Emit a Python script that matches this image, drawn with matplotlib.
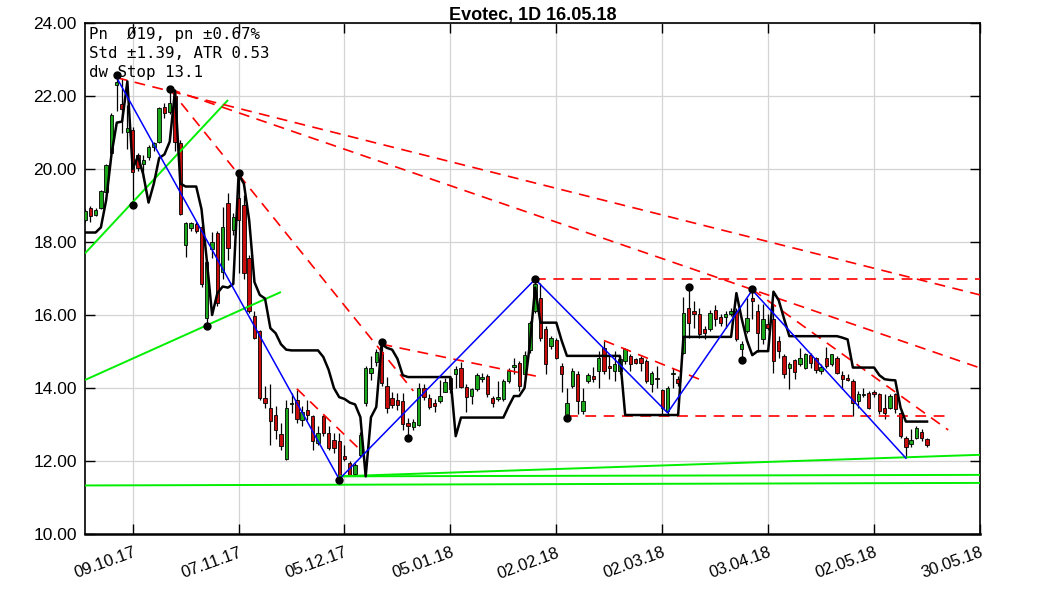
import matplotlib
matplotlib.use('Agg')
import matplotlib.pyplot as plt
import numpy as np

# ---------------- data ----------------
bar_index = list(range(-9, 151))   # trading-day index, 0 = 09.10.17
opens = [18.60,18.92,18.74,18.92,19.38,20.43,22.29,21.78,21.02,
 21.07,20.38,20.14,20.34,20.59,20.75,21.71,21.57,22.00,20.72,
 17.92,18.37,18.50,18.42,15.91,17.80,18.24,17.19,19.06,18.33,
 19.20,19.02,17.56,15.96,15.55,13.73,13.45,13.27,12.75,12.05,
 13.57,13.68,13.13,13.40,13.22,12.50,13.22,12.77,12.58,12.54,
 12.15,11.95,11.65,12.17,13.59,14.41,14.70,15.00,14.06,13.73,
 13.68,13.65,13.05,12.93,13.00,14.00,13.72,13.59,13.64,13.90,
 14.28,14.37,14.54,14.03,13.78,13.96,14.24,14.33,13.72,13.69,
 13.69,14.19,14.58,14.69,14.37,15.03,16.11,16.47,15.61,15.15,
 15.31,14.60,13.26,14.05,14.37,13.37,14.19,14.33,14.47,15.10,
 14.60,14.47,14.47,14.74,14.88,14.79,14.83,14.74,14.12,14.28,
 13.94,13.37,14.37,14.24,14.97,16.20,16.11,16.02,15.61,15.61,
 16.13,15.95,15.95,16.02,16.11,15.06,15.56,16.46,16.10,15.33,
 15.74,15.88,15.29,14.88,14.56,14.76,14.65,14.56,14.90,14.81,
 14.47,14.83,14.65,14.83,14.35,14.28,14.19,13.64,13.80,13.87,
 13.89,13.83,13.46,13.46,13.83,13.32,12.64,12.47,12.64,12.80,12.59]
highs = [18.90,18.98,18.93,19.43,20.14,21.53,22.57,22.50,21.75,
 21.15,20.45,20.38,20.66,20.75,21.70,21.80,22.19,22.15,20.80,
 18.55,18.55,18.55,18.47,17.50,18.27,18.30,18.95,19.33,18.80,
 19.90,19.30,17.65,16.10,15.60,14.05,14.12,13.50,13.04,13.68,
 13.86,13.95,13.50,13.68,13.27,12.95,13.27,12.95,12.77,12.77,
 12.45,12.00,11.95,12.80,14.60,14.87,15.06,15.25,14.30,13.90,
 13.85,13.85,13.19,13.15,14.15,14.10,13.83,13.69,14.23,14.28,
 14.33,14.60,14.70,14.10,14.01,14.40,14.40,14.38,13.78,14.19,
 14.24,14.56,14.83,14.74,15.01,15.84,16.98,16.88,15.70,15.43,
 15.36,14.69,14.01,14.54,14.47,14.00,14.42,14.58,15.01,15.29,
 14.88,15.01,14.88,15.10,14.92,14.83,14.88,14.79,14.47,14.60,
 13.97,14.06,14.55,14.33,16.50,16.77,16.38,16.20,15.70,16.15,
 16.28,16.02,16.11,16.20,16.20,15.29,16.47,16.70,16.30,16.29,
 16.02,16.29,15.42,14.92,14.70,14.79,15.10,14.97,14.97,14.85,
 14.65,15.11,14.94,14.88,14.47,14.38,14.24,13.92,14.01,13.92,
 13.94,13.87,13.83,13.83,13.87,13.37,12.69,12.87,12.96,12.87,12.64]
lows = [18.55,18.55,18.70,18.90,19.35,20.40,21.60,21.00,20.55,
 19.06,19.95,19.76,20.25,20.50,20.70,21.40,21.50,20.50,18.74,
 17.60,18.30,18.25,16.78,15.71,17.56,16.25,17.00,17.51,18.20,
 17.14,17.00,16.05,15.33,13.68,13.45,12.45,12.59,12.31,12.03,
 13.32,13.04,12.95,13.13,12.31,12.45,12.68,12.31,12.22,11.47,
 11.99,11.60,11.60,12.10,13.50,14.23,14.60,14.05,13.32,13.45,
 13.40,12.85,12.62,12.85,12.95,13.68,13.42,13.33,13.59,13.88,
 13.87,14.00,14.01,13.33,13.56,13.92,14.17,13.74,13.47,13.64,
 13.64,14.15,14.37,13.92,14.28,14.97,16.06,15.29,14.37,15.06,
 14.79,13.90,13.19,14.00,13.28,13.28,14.15,14.17,14.00,14.38,
 14.26,14.19,14.38,14.65,14.47,14.65,14.47,14.15,13.90,14.01,
 13.28,13.28,14.01,14.06,14.92,15.38,15.65,15.38,15.33,15.56,
 15.70,15.70,15.65,15.97,15.29,14.77,15.52,15.88,15.00,15.20,
 15.60,14.42,14.83,14.28,13.97,14.24,14.60,14.51,14.56,14.42,
 14.38,14.56,14.60,14.38,13.97,14.19,13.23,13.46,13.74,13.42,
 13.74,13.28,13.15,13.42,13.32,12.64,12.09,12.37,12.60,12.55,12.37]
closes = [18.85,18.71,18.88,19.40,20.11,21.48,22.37,21.64,21.11,
 19.93,20.02,20.26,20.59,20.70,21.66,21.53,21.80,20.75,18.77,
 18.51,18.51,18.30,16.85,17.46,18.00,16.32,18.42,17.83,18.69,
 18.60,17.15,16.10,15.37,13.73,13.59,13.09,12.86,12.40,13.45,
 13.60,13.14,13.34,13.27,12.54,12.77,12.77,12.36,12.36,11.63,
 12.05,11.63,11.90,12.72,14.55,14.55,14.98,14.14,13.45,13.54,
 13.54,13.02,12.96,13.08,14.00,13.75,13.48,13.52,13.78,14.17,
 13.96,14.51,14.03,13.74,13.96,14.36,14.30,13.83,13.60,13.75,
 14.19,14.47,14.63,14.05,14.90,15.79,16.86,15.36,14.67,15.38,
 14.83,14.39,13.60,14.47,13.64,13.64,14.35,14.24,14.83,14.47,
 14.56,14.65,14.79,15.06,14.65,14.69,14.69,14.19,14.40,14.24,
 13.46,14.01,14.39,14.15,16.06,15.79,16.02,15.47,15.52,16.06,
 15.88,15.79,16.02,16.11,15.33,15.20,15.93,16.38,15.50,15.88,
 15.65,14.74,15.01,14.37,14.65,14.45,14.83,14.92,14.69,14.48,
 14.58,14.60,14.92,14.42,14.24,14.21,13.60,13.84,13.84,13.46,
 13.83,13.37,13.32,13.78,13.42,12.68,12.37,12.57,12.91,12.64,12.44]
stop_line = [18.26,18.26,18.26,18.40,19.15,20.40,21.27,21.30,22.40,
 20.00,20.35,19.85,19.08,19.60,20.30,20.40,20.75,22.15,19.60,
 19.52,19.52,19.52,18.90,17.50,16.00,16.60,16.78,16.75,16.85,
 19.85,19.60,18.60,16.90,16.55,16.45,15.64,15.50,15.20,15.05,
 15.03,15.03,15.03,15.03,15.03,15.03,14.85,14.50,14.00,13.75,
 13.70,13.60,13.55,13.20,11.58,13.20,13.48,15.20,15.10,15.05,
 14.80,14.35,14.30,14.30,14.30,14.30,14.30,14.30,14.30,14.30,
 14.30,12.68,13.19,13.19,13.19,13.19,13.19,13.19,13.19,13.19,
 13.19,13.50,13.78,13.78,14.00,15.20,16.75,15.79,15.79,15.79,
 15.79,15.30,14.88,14.88,14.88,14.88,14.88,14.88,14.88,14.88,
 14.88,14.88,14.88,13.26,13.26,13.26,13.26,13.26,13.26,13.26,
 13.26,13.26,13.26,13.26,15.40,15.40,15.40,15.40,15.40,15.40,
 15.40,15.40,15.40,15.40,16.60,15.90,15.30,14.90,15.01,15.01,
 15.01,16.64,16.40,15.90,15.42,15.42,15.42,15.42,15.42,15.42,
 15.42,15.42,15.42,15.42,15.38,15.33,14.56,14.56,14.56,14.56,
 14.56,14.35,14.24,14.22,14.21,13.46,13.08,13.08,13.08,13.08,13.08]

zigzag_k = [-3, 39, 76, 101, 117, 146]
zigzag_p = [22.50, 11.50, 16.98, 13.32, 16.68, 12.08]

pivot_k = [-3, 0, 7, 14, 20, 39, 47, 52, 76, 82, 105, 115, 117]
pivot_p = [22.57, 19.01, 22.19, 15.71, 19.90, 11.47, 15.25, 12.62,
           16.98, 13.19, 16.77, 14.77, 16.70]

# resistance (red dashed) lines: start k, start price, end k, end price
red_k0 = [-3, 7, 7, 47, 31, 76, 89, 82, 117]
red_p0 = [22.50, 22.19, 22.19, 15.20, 13.98, 16.98, 15.30, 13.22, 16.70]
red_k1 = [160, 160, 53, 77, 43, 160, 107, 154, 154]
red_p1 = [16.55, 14.55, 13.92, 14.30, 12.30, 16.98, 14.24, 13.22, 12.85]

# support (green) lines
grn_k0 = [-9, -9, -9, 39, 39]
grn_p0 = [17.69, 14.22, 11.33, 11.58, 11.58]
grn_k1 = [18, 28, 160, 160, 160]
grn_p1 = [21.89, 16.63, 11.40, 11.62, 12.17]

tick_k = [0, 20, 40, 60, 80, 100, 120, 140, 160]
tick_labels = ['09.10.17', '07.11.17', '05.12.17', '05.01.18', '02.02.18',
               '02.03.18', '03.04.18', '02.05.18', '30.05.18']
y_ticks = [10, 12, 14, 16, 18, 20, 22, 24]

title = 'Evotec, 1D 16.05.18'
info_text = 'Pn  Ø19, pn ±0.67%\nStd ±1.39, ATR 0.53\ndw Stop 13.1'

# ---------------- plot ----------------
W, H = 1063, 591
fig = plt.figure(figsize=(W / 100, H / 100), dpi=100)
ax = fig.add_axes([85 / W, 1 - 534 / H, (980 - 85) / W, (534 - 23) / H])

x = np.array(bar_index, dtype=float)
o = np.array(opens); h = np.array(highs); l = np.array(lows); c = np.array(closes)
up = c >= o

ax.set_axisbelow(True)
ax.grid(True, color='#d4d4d4', linewidth=0.9)

# wicks
ax.vlines(x, l, h, color='black', linewidth=0.9, zorder=2)
# bodies
bottoms = np.minimum(o, c)
heights = np.maximum(np.abs(c - o), 0.03)
cols = np.where(up, '#1aa81a', '#c80c0c')
ax.bar(x, heights, bottom=bottoms, width=0.64, color=cols,
       edgecolor='black', linewidth=0.6, zorder=3)

# support lines
for k0, p0, k1, p1 in zip(grn_k0, grn_p0, grn_k1, grn_p1):
    ax.plot([k0, k1], [p0, p1], color='#00ee00', linewidth=1.4, zorder=4,
            solid_capstyle='butt')

# resistance lines
for k0, p0, k1, p1 in zip(red_k0, red_p0, red_k1, red_p1):
    ax.plot([k0, k1], [p0, p1], color='#ff0000', linewidth=1.2,
            linestyle=(0, (6.5, 4.5)), zorder=4)

# stop line
ax.plot(x, stop_line, color='black', linewidth=1.8, zorder=5)

# zigzag
ax.plot(zigzag_k, zigzag_p, color='#0000ff', linewidth=1.1, zorder=6)

# pivots
ax.plot(pivot_k, pivot_p, 'o', color='black', markersize=5, zorder=7)

ax.set_xlim(-9, 160)
ax.set_ylim(10, 24)
ax.set_xticks(tick_k)
ax.set_xticklabels(tick_labels, rotation=20, ha='right',
                   rotation_mode='anchor', family='Liberation Sans', fontsize=12)
ax.set_yticks(y_ticks)
ax.set_yticklabels(['%.2f' % v for v in y_ticks], family='Liberation Sans',
                   fontsize=12.5)
ax.tick_params(axis='both', direction='in', length=7, width=1.0,
               top=True, right=True, colors='black')
ax.tick_params(axis='x', pad=8)
ax.tick_params(axis='y', pad=6)
for s in ax.spines.values():
    s.set_linewidth(1.2)
ax.spines['bottom'].set_linewidth(1.8)

ax.set_title(title, fontsize=13, fontweight='bold', family='Liberation Sans',
             pad=2)
ax.text(0.005, 0.992, info_text, transform=ax.transAxes, va='top', ha='left',
        family='DejaVu Sans Mono', fontsize=11.3, linespacing=1.32, zorder=8)

fig.savefig('out.png', dpi=100)
